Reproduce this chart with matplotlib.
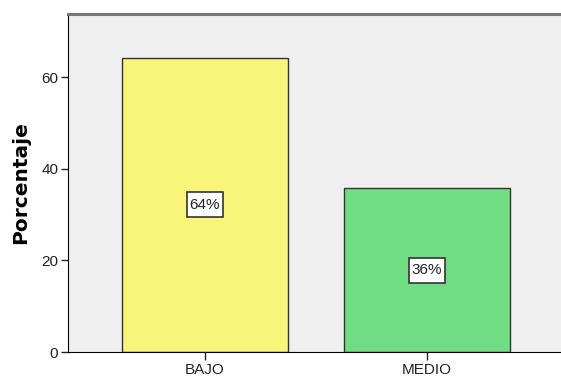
import numpy as np
import matplotlib
matplotlib.use('Agg')
import matplotlib.pyplot as plt
from matplotlib.path import Path

categories = ['BAJO', 'MEDIO']
percentages = [64.3, 35.7]
bar_labels = ['64%', '36%']
bar_colours = ['#F9F57A', '#70DD85']
y_ticks = [0, 20, 40, 60]

plt.rcParams['font.family'] = ['Liberation Sans', 'DejaVu Sans']


class PadBox:
  """Rectangular label box with separate horizontal / vertical padding"""

  def __init__(self, padx, pady):
    self.padx = padx
    self.pady = pady

  def __call__(self, x0, y0, width, height, mutation_size):
    px = self.padx * mutation_size
    py = self.pady * mutation_size
    x1, y1 = x0 + width + px, y0 + height + py
    x0, y0 = x0 - px, y0 - py
    return Path([(x0, y0), (x1, y0), (x1, y1), (x0, y1), (x0, y0)], closed=True)


fig = plt.figure(figsize=(5.61, 3.83), dpi=100)
ax = fig.add_axes([68 / 561, 31 / 383, 493 / 561, 338 / 383])
ax.set_facecolor('#EFEFEF')

x = np.arange(len(categories))
bars = ax.bar(x, percentages, width=0.75, color=bar_colours,
              edgecolor='#333333', linewidth=1.0, zorder=2)

# labels sit at half of the bar height, in a white box
for rect, label in zip(bars, bar_labels):
  ax.text(rect.get_x() + rect.get_width() / 2, rect.get_height() / 2, label,
          ha='center', va='center', fontsize=11, color='#222222', zorder=3,
          bbox=dict(boxstyle=PadBox(0.2, 0.35), facecolor='white',
                    edgecolor='#333333', linewidth=1.2))

ax.set_xlim(-0.617, 1.604)
ax.set_ylim(0, 73.8)
ax.set_xticks(x)
ax.set_xticklabels(categories, fontsize=11)
ax.set_yticks(y_ticks)
ax.tick_params(axis='y', labelsize=11, length=5, width=1, pad=2, colors='#222222')
ax.tick_params(axis='x', length=6, width=1, pad=2, colors='#222222')

ax.set_ylabel('Porcentaje', fontsize=14.5, fontweight='bold', labelpad=8,
              family=['DejaVu Sans'])

ax.spines['right'].set_visible(False)
ax.spines['top'].set_color('#777777')
ax.spines['top'].set_linewidth(2.2)
ax.spines['left'].set_color('black')
ax.spines['bottom'].set_color('black')

fig.savefig('out.png', dpi=100)
